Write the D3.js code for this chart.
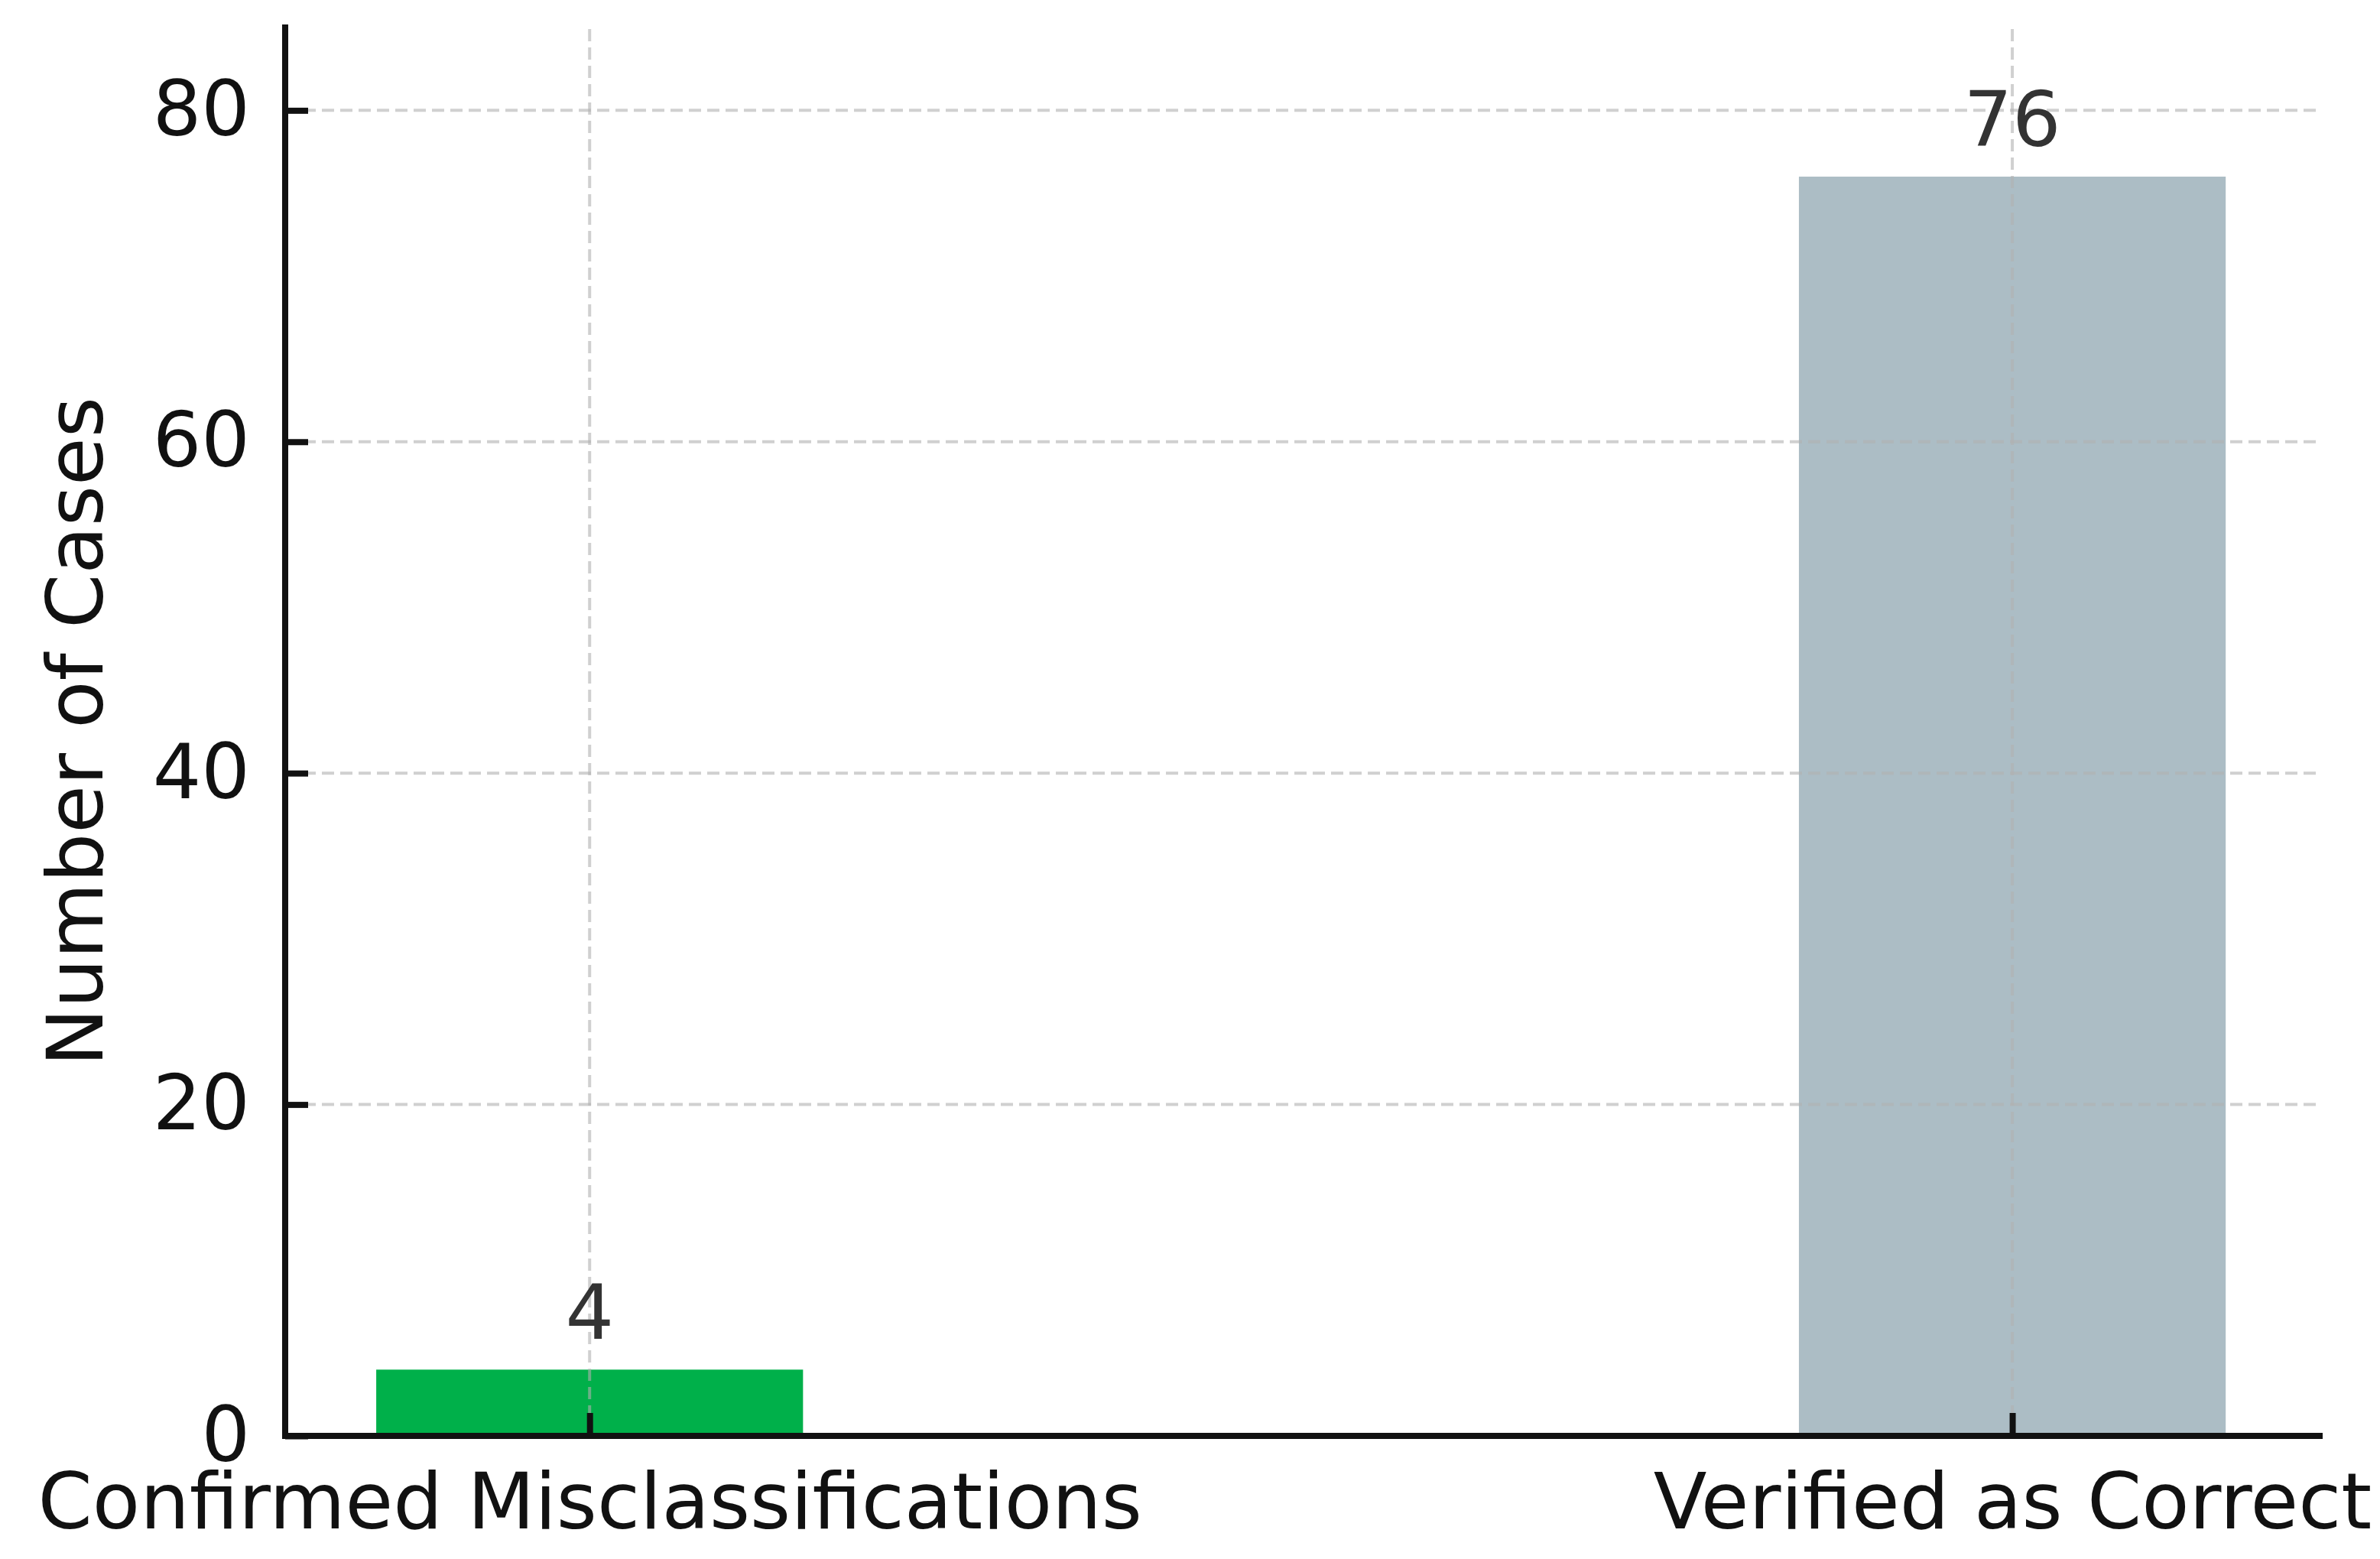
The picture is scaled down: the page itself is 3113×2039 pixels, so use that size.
<!DOCTYPE html>
<html>
<head>
<meta charset="utf-8">
<script src="https://cdn.jsdelivr.net/npm/d3@7"></script>
<style>
  html, body { margin: 0; padding: 0; background: #fff; }
  svg { display: block; }
</style>
</head>
<body>
<script>
const categories = ["Confirmed Misclassifications", "Verified as Correct"];
const values = [4, 76];
const barColors = ["#00B04A", "#ACBDC5"];
const yTicks = [0, 20, 40, 60, 80];
const yLabel = "Number of Cases";

const W = 3113, H = 2039;
const margin = {left: 373, right: 79, top: 36, bottom: 161};
const FONT = "DejaVu Sans, sans-serif";
const FS = 100;
const FSX = 102;

const svg = d3.select("body").append("svg").attr("width", W).attr("height", H)
  .style("font-family", FONT);

const x = d3.scaleLinear().domain([-0.214, 1.216]).range([margin.left, W - margin.right]);
const y = d3.scaleLinear().domain([0, 85]).range([H - margin.bottom, margin.top]);
const barW = 0.3;

// bars
svg.append("g").selectAll("rect").data(values).join("rect")
  .attr("x", (d, i) => x(i - barW / 2))
  .attr("width", (d, i) => x(i + barW / 2) - x(i - barW / 2))
  .attr("y", d => y(d))
  .attr("height", d => y(0) - y(d))
  .attr("fill", (d, i) => barColors[i]);

// grid (drawn above bars)
const grid = svg.append("g").attr("stroke", "#b0b0b0").attr("stroke-opacity", 0.6)
  .attr("stroke-width", 4).attr("stroke-dasharray", "16,8");
grid.selectAll("line.h").data(yTicks.filter(t => t > 0)).join("line").attr("class", "h")
  .attr("x1", x.range()[0]).attr("x2", x.range()[1])
  .attr("y1", d => y(d)).attr("y2", d => y(d));
grid.selectAll("line.v").data(categories.map((c, i) => i)).join("line").attr("class", "v")
  .attr("x1", d => x(d)).attr("x2", d => x(d))
  .attr("y1", y.range()[0]).attr("y2", y.range()[1]);

// axes
const yAxis = d3.axisLeft(y).tickValues(yTicks).tickSizeInner(-30).tickSizeOuter(0).tickPadding(46);
const xAxis = d3.axisBottom(x).tickValues([0, 1]).tickFormat(i => categories[i])
  .tickSizeInner(-30).tickSizeOuter(0).tickPadding(49);

const gy = svg.append("g").attr("transform", `translate(${margin.left},0)`).call(yAxis);
const gx = svg.append("g").attr("transform", `translate(0,${H - margin.bottom})`).call(xAxis);
[gx, gy].forEach(g => {
  g.select(".domain").remove();
  g.selectAll(".tick line").attr("stroke", "#111").attr("stroke-width", 8);
  g.selectAll(".tick text").attr("fill", "#111").style("font-family", FONT);
});
gy.selectAll(".tick text").style("font-size", FS + "px");
gx.selectAll(".tick text").style("font-size", FSX + "px");

// spines
svg.append("line").attr("x1", margin.left).attr("x2", margin.left)
  .attr("y1", y.range()[0]).attr("y2", y.range()[1])
  .attr("stroke", "#111").attr("stroke-width", 8).attr("stroke-linecap", "square");
svg.append("line").attr("x1", x.range()[0]).attr("x2", x.range()[1])
  .attr("y1", y(0)).attr("y2", y(0))
  .attr("stroke", "#111").attr("stroke-width", 8).attr("stroke-linecap", "square");

// value labels
svg.append("g").selectAll("text").data(values).join("text")
  .attr("x", (d, i) => x(i))
  .attr("y", d => y(d) - 40)
  .attr("text-anchor", "middle")
  .attr("fill", "#333")
  .style("font-size", FS + "px")
  .text(d => d);

// y label
svg.append("text")
  .attr("transform", `translate(134,${(y.range()[0] + y.range()[1]) / 2}) rotate(-90)`)
  .attr("text-anchor", "middle")
  .attr("fill", "#111")
  .style("font-size", FSX + "px")
  .text(yLabel);
</script>
</body>
</html>
